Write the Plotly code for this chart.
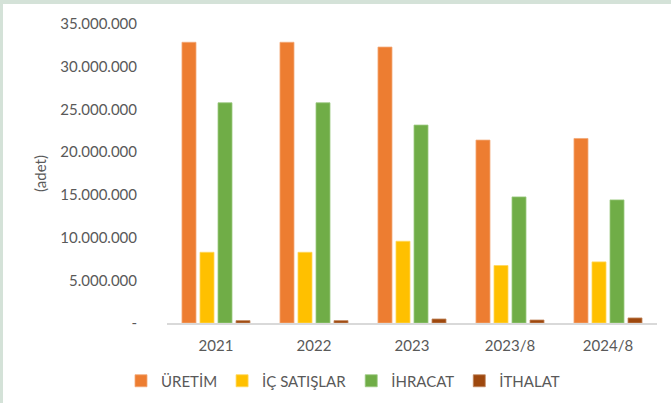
import plotly.graph_objects as go

categories = ["2021", "2022", "2023", "2023/8", "2024/8"]
uretim = [32860000, 32860000, 32300000, 21410000, 21600000]
ic_satislar = [8280000, 8280000, 9570000, 6730000, 7150000]
ihracat = [25780000, 25780000, 23170000, 14760000, 14410000]
ithalat = [280000, 280000, 470000, 350000, 590000]

series_names = ["ÜRETİM", "İÇ SATIŞLAR", "İHRACAT", "İTHALAT"]
series_values = [uretim, ic_satislar, ihracat, ithalat]
series_colors = ["#ED7D31", "#FFC000", "#70AD47", "#9E480E"]
edge_colors = ["#F3A877", "#FFD75C", "#9CC982", "#C28860"]

tick_vals = [0, 5000000, 10000000, 15000000, 20000000, 25000000, 30000000, 35000000]
tick_text = ["-", "5.000.000", "10.000.000", "15.000.000", "20.000.000",
             "25.000.000", "30.000.000", "35.000.000"]

W, H = 671, 403
L, R, T, B = 167, 14, 24, 80
pw, ph = W - L - R, H - T - B

fig = go.Figure()
for name, vals, col, ec in zip(series_names, series_values, series_colors, edge_colors):
    fig.add_trace(go.Bar(name=name, x=categories, y=vals,
                         marker=dict(color=col, line=dict(color=ec, width=0.8))))

def px_x(p):
    return (p - L) / pw

def px_y(p):
    return (H - B - p) / ph

border = "#D4E2D8"
shapes = [
    dict(type="rect", xref="paper", yref="paper", x0=px_x(0), x1=px_x(3), y0=px_y(H), y1=px_y(0),
         fillcolor=border, line=dict(width=0), layer="below"),
    dict(type="rect", xref="paper", yref="paper", x0=px_x(0), x1=px_x(W), y0=px_y(4), y1=px_y(0),
         fillcolor=border, line=dict(width=0), layer="below"),
]

font_family = "Lato, 'Open Sans', sans-serif"
fig.update_layout(
    width=W, height=H,
    margin=dict(l=L, r=R, t=T, b=B, autoexpand=False),
    paper_bgcolor="white", plot_bgcolor="white",
    barmode="group", bargap=0.265, bargroupgap=0.222,
    font=dict(family=font_family, size=15, color="#595959"),
    shapes=shapes,
    hovermode=False,
    showlegend=True,
    legend=dict(orientation="h", x=px_x(343), xanchor="center", y=px_y(381), yanchor="middle",
                font=dict(size=15, color="#595959"), itemwidth=30, traceorder="normal",
                bgcolor="rgba(0,0,0,0)"),
    xaxis=dict(showline=True, linecolor="#D9D9D9", linewidth=1.5, showgrid=False,
               ticks="", ticklabelstandoff=8, tickfont=dict(size=15, color="#595959"),
               automargin=False),
    yaxis=dict(range=[0, 35000000], tickvals=tick_vals, ticktext=tick_text,
               showgrid=False, showline=False, zeroline=False, ticks="",
               ticklabelstandoff=29, tickfont=dict(size=15, color="#595959"),
               title=dict(text="(adet)", standoff=10, font=dict(size=15, color="#595959")),
               automargin=False),
)

fig.write_html("out.html", config={"displayModeBar": False, "staticPlot": True},
               post_script="document.body.style.margin='0';document.body.style.overflow='hidden';")
